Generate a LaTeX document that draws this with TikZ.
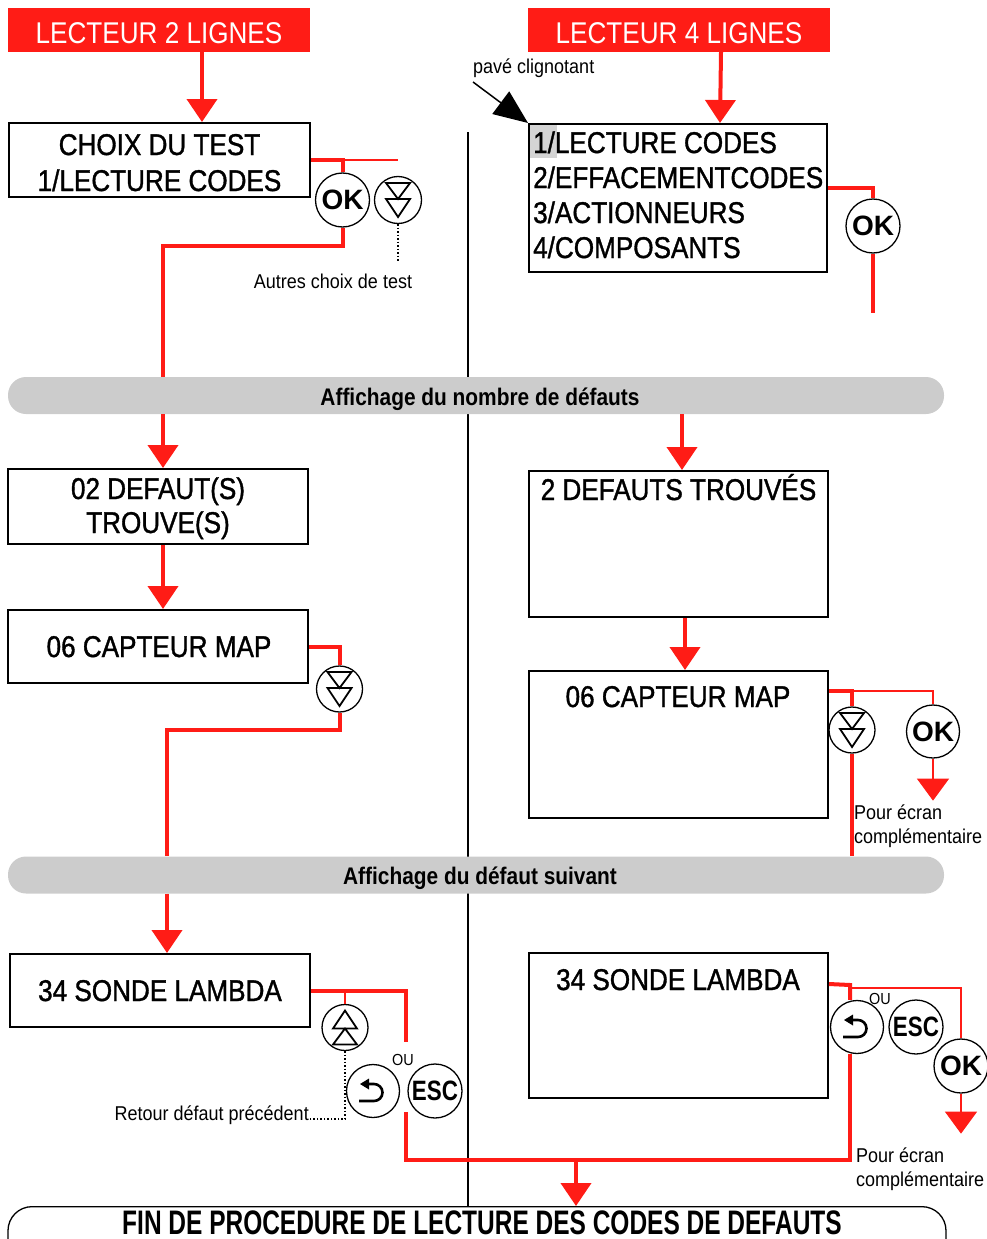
\documentclass[tikz,border=0pt]{standalone}
\usepackage{fontspec}
\setmainfont{Liberation Sans}
\newfontfamily\ftbox{Liberation Sans}[FakeStretch=0.87]
\newfontfamily\ftboxm{Liberation Sans}[FakeStretch=0.87,FakeBold=1.2]
\newfontfamily\ftfin{Liberation Sans}[FakeStretch=0.72]
\newfontfamily\ftsm{Liberation Sans}[FakeStretch=0.9]
\newfontfamily\ftesc{Liberation Sans}[FakeStretch=0.8]
\usetikzlibrary{arrows.meta,calc}
\definecolor{rd}{RGB}{255,28,22}
\definecolor{bandgray}{RGB}{204,204,204}
\definecolor{hlgray}{RGB}{212,212,212}
\tikzset{
  scr/.style={draw=black,line width=2pt,fill=white,inner sep=0pt},
  boxtxt/.style={font=\ftboxm\fontsize{30}{36}\selectfont,inner sep=0pt,anchor=base},
  hdr/.style={fill=rd,minimum width=302pt,minimum height=44pt,inner sep=0pt},
  hdrtxt/.style={text=white,font=\ftbox\fontsize{30}{36}\selectfont,inner sep=0pt,anchor=base},
  band/.style={fill=bandgray,rounded corners=18pt,minimum width=936pt,minimum height=37pt,inner sep=0pt},
  bandtxt/.style={font=\ftbox\bfseries\fontsize{24}{28}\selectfont,inner sep=0pt,anchor=base},
  smtxt/.style={font=\ftsm\fontsize{20}{24}\selectfont,inner sep=0pt},
  outxt/.style={font=\ftsm\fontsize{16}{18}\selectfont,inner sep=0pt,anchor=base},
  btn/.style={circle,draw=black,line width=1.3pt,fill=white,inner sep=0pt},
  oktxt/.style={font=\bfseries\fontsize{28}{30}\selectfont},
  esctxt/.style={font=\ftesc\bfseries\fontsize{28}{30}\selectfont},
  thk/.style={draw=rd,line width=4pt},
  thn/.style={draw=rd,line width=1.2pt},
  rarrow/.style={draw=rd,fill=rd,line width=4pt,-{Triangle[width=30pt,length=23pt]}},
  rarrowthin/.style={draw=rd,fill=rd,line width=1.2pt,-{Triangle[width=32pt,length=22pt]}},
  dots/.style={draw=black,line width=1.5pt,dotted},
  dnsym/.pic={\draw[line width=1.8pt,line join=miter] (-12,-17) -- (12,-17) -- (0,-1) -- cycle (-12,-1) -- (12,-1) -- (0,17) -- cycle;},
  upsym/.pic={\draw[line width=1.8pt,line join=miter] (-12,17) -- (12,17) -- (0,1) -- cycle (-12,1) -- (12,1) -- (0,-17) -- cycle;},
  retsym/.pic={\draw[line width=2.6pt] (-14,10) -- (1,10) arc[start angle=90,end angle=-90,radius=8.5] -- (-5,-7);
               \fill (-13,-7) -- (-4,-12.5) -- (-4,-1.5) -- cycle;}
}
\begin{document}
\begin{tikzpicture}[x=1pt,y=-1pt]
\useasboundingbox (0,0) rectangle (987,1239);
\clip (0,0) rectangle (987,1239);

% divider
\draw[line width=2pt] (468,132) -- (468,1206);

% headers
\node[hdr] (h1) at (159,30) {};
\node[hdrtxt] (h1t) at (159,44) {LECTEUR 2 LIGNES};
\node[hdr] (h2) at (679,30) {};
\node[hdrtxt] (h2t) at (679,44) {LECTEUR 4 LIGNES};

% bands
\node[band] (band1) at (476,395.5) {};
\node[bandtxt] (band1t) at (480,405) {Affichage du nombre de défauts};
\node[band] (band2) at (476,875) {};
\node[bandtxt] (band2t) at (480,884) {Affichage du défaut suivant};

% ---------- left column ----------
\node[scr,minimum width=301pt,minimum height=74pt] (b1) at (159.5,160) {};
\node[boxtxt] (b1a) at (159.5,155) {CHOIX DU TEST};
\node[boxtxt] (b1b) at (159.5,191) {1/LECTURE CODES};
\draw[rarrow] ([xshift=43pt]h1.south) -- ([xshift=42.5pt]b1.north);

\node[btn,minimum size=54pt] (ok1) at (342.5,200) {};
\node[oktxt] (ok1t) at (ok1) {OK};
\node[btn,minimum size=47pt] (dn1) at (398,200) {};
\pic at (dn1) {dnsym};
\draw[thk] (b1.east) -| (ok1.north);
\draw[thn] (ok1.north |- b1.east) -- (dn1.north |- b1.east);
\draw[dots] (dn1.south) -- ++(0,38);
\node[smtxt,anchor=base] (autres) at (333,288) {Autres choix de test};
\coordinate (jL1) at (163,246);
\draw[thk] (ok1.south) |- (jL1) -- (jL1 |- band1.north);

\node[scr,minimum width=300pt,minimum height=75pt] (b2) at (158,506.5) {};
\node[boxtxt] (b2a) at (158,499) {02 DEFAUT(S)};
\node[boxtxt] (b2b) at (158,533) {TROUVE(S)};
\draw[rarrow] (jL1 |- band1.south) -- (jL1 |- b2.north);

\node[scr,minimum width=300pt,minimum height=73pt] (b3) at (158,646.5) {};
\node[boxtxt] (b3a) at (159,657) {06 CAPTEUR MAP};
\draw[rarrow] (jL1 |- b2.south) -- (jL1 |- b3.north);

\node[btn,minimum size=46pt] (dn2) at (339.5,689) {};
\pic at (dn2) {dnsym};
\draw[thk] (b3.east) -| (dn2.north);
\coordinate (jL2) at (167,730);
\draw[thk] (dn2.south) |- (jL2) -- (jL2 |- band2.north);

\node[scr,minimum width=300pt,minimum height=73pt] (b4) at (160,990.5) {};
\node[boxtxt] (b4a) at (160,1001) {34 SONDE LAMBDA};
\draw[rarrow] (jL2 |- band2.south) -- (jL2 |- b4.north);

\node[btn,minimum size=46pt] (up4) at (345,1027.5) {};
\pic at (up4) {upsym};
\node[btn,minimum size=53pt] (ret4) at (373,1091) {};
\pic at (ret4) {retsym};
\node[btn,minimum size=54pt] (esc4) at (435,1091) {};
\node[esctxt] (esc4t) at (esc4) {ESC};
\node[outxt] (ou4) at (403,1065) {OU};
\coordinate (e4a) at (406,1042);
\draw[thk] (b4.east) -| (e4a);
\draw[thn] (up4.north |- b4.east) -- (up4.north);
\node[smtxt,anchor=base east] (rtxt) at (309,1120) {Retour défaut précédent};
\coordinate (rdot) at ([yshift=1pt]rtxt.base east);
\draw[dots] (up4.south) |- (rdot);

% ---------- right column ----------
\node[scr,minimum width=298pt,minimum height=148pt] (r1) at (678,198) {};
\fill[hlgray] (530,125) rectangle (557,158);
\node[boxtxt,anchor=base west] (r1a) at (533,153) {1/LECTURE CODES};
\node[boxtxt,anchor=base west] (r1b) at (533,188) {2/EFFACEMENTCODES};
\node[boxtxt,anchor=base west] (r1c) at (533,223) {3/ACTIONNEURS};
\node[boxtxt,anchor=base west] (r1d) at (533,258) {4/COMPOSANTS};
\draw[rarrow] ([xshift=42pt]h2.south) -- ([xshift=42pt]r1.north);

\node[smtxt,anchor=base west] (pave) at (473,74) {pavé clignotant};
\draw[line width=1.5pt,-{Triangle[width=28pt,length=34pt]}] ([yshift=-8pt]pave.base west) -- (r1.north west);

\node[btn,minimum size=54pt] (okR) at (873,226) {};
\node[oktxt] (okRt) at (okR) {OK};
\draw[thk] ([yshift=10pt]r1.east) -| (okR.north);
\draw[thk] (okR.south) -- ++(0,59);

\node[scr,minimum width=299pt,minimum height=146pt] (r2) at (678.5,544) {};
\node[boxtxt] (r2a) at (678.5,500) {2 DEFAUTS TROUVÉS};
\draw[rarrow] ([xshift=3.5pt]r2.north |- band1.south) -- ([xshift=3.5pt]r2.north);

\node[scr,minimum width=299pt,minimum height=147pt] (r3) at (678.5,744.5) {};
\node[boxtxt] (r3a) at (678,707) {06 CAPTEUR MAP};
\draw[rarrow] ([xshift=6.5pt]r2.south) -- ([xshift=6.5pt]r3.north);

\node[btn,minimum size=46pt] (dn3) at (852,730) {};
\pic at (dn3) {dnsym};
\node[btn,minimum size=53pt] (okR2) at (933,731.5) {};
\node[oktxt] (okR2t) at (okR2) {OK};
\coordinate (jR3) at ([yshift=-21pt]r3.north east);
\draw[thk] (jR3) -| (dn3.north);
\draw[thn] (jR3 -| dn3.north) -| (okR2.north);
\draw[thk] (dn3.south) -- (dn3.south |- band2.north);
\draw[rarrowthin] (okR2.south) -- ++(0,42);
\node[smtxt,anchor=base west] (pe1) at (854,819) {Pour écran};
\node[smtxt,anchor=base west] (pe2) at (854,843) {complémentaire};

\node[scr,minimum width=299pt,minimum height=145pt] (r4) at (678.5,1025.5) {};
\node[boxtxt] (r4a) at (678,990) {34 SONDE LAMBDA};

\node[btn,minimum size=53pt] (ret5) at (857,1027) {};
\pic at (ret5) {retsym};
\node[btn,minimum size=54pt] (esc5) at (916,1027) {};
\node[esctxt] (esc5t) at (esc5) {ESC};
\node[btn,minimum size=54pt] (ok5) at (961,1066) {};
\node[oktxt] (ok5t) at (ok5) {OK};
\node[outxt] (ou5) at (880,1004) {OU};
\coordinate (jR5) at ([yshift=-32pt]r4.north east);
\coordinate (jR5c) at (850,985);
\draw[thk] (jR5) -- (jR5c) -- (jR5c |- ret5.north);
\coordinate (jR5t) at (850,988);
\draw[thn] (jR5t) -| (ok5.north);
\draw[rarrowthin] (ok5.south) -- ++(0,40);
\node[smtxt,anchor=base west] (pe3) at (856,1162) {Pour écran};
\node[smtxt,anchor=base west] (pe4) at (856,1186) {complémentaire};

% bottom join
\coordinate (e4b) at (406,1112);
\coordinate (jB) at (850,1160);
\draw[thk] (e4b) |- (jB) -- (jB |- ret5.south);

% final
\node[draw=black,line width=1.3pt,fill=white,rounded corners=24pt,minimum width=938pt,minimum height=80pt,inner sep=0pt,anchor=north] (fin) at (477,1206) {};
\node[font=\ftfin\bfseries\fontsize{34}{40}\selectfont,inner sep=0pt,anchor=base] (fint) at (482,1234) {FIN DE PROCEDURE DE LECTURE DES CODES DE DEFAUTS};
\coordinate (jF) at (576,1160);
\draw[rarrow] (jF) -- (jF |- fin.north);
\end{tikzpicture}
\end{document}
